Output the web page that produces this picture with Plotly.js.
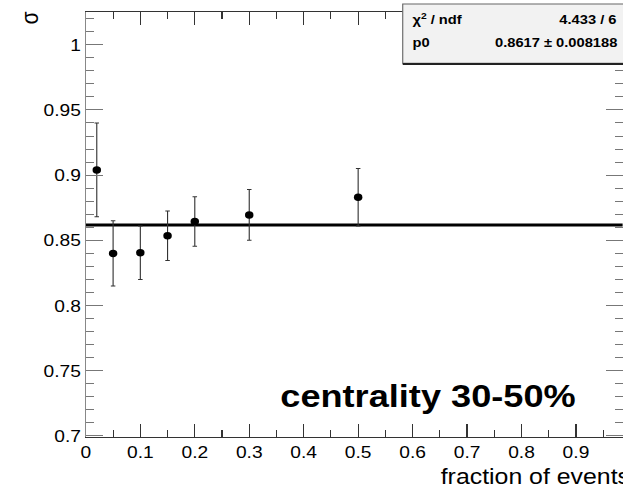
<!DOCTYPE html>
<html>
<head>
<meta charset="utf-8">
<script src="https://cdn.plot.ly/plotly-3.0.1.min.js"></script>
<style>
  html, body { margin: 0; padding: 0; background: #ffffff; overflow: hidden; }
  #wrap { width: 552px; height: 491px; transform: scaleX(1.13); transform-origin: 0 0; }
</style>
</head>
<body>
<div id="wrap"><div id="plot"></div></div>
<script>
// ---- data ----
const frac = [0.02, 0.05, 0.10, 0.15, 0.20, 0.30, 0.50];
const sigma = [0.904, 0.840, 0.8405, 0.8535, 0.8645, 0.8695, 0.883];
const sigmaErr = [0.036, 0.025, 0.0205, 0.019, 0.019, 0.0195, 0.022];
const fitP0 = 0.8617;
const fitP0Err = 0.008188;
const chi2 = 4.433;
const ndf = 6;
const fitX = [0, 1];
const xTickVals = [0, 0.1, 0.2, 0.3, 0.4, 0.5, 0.6, 0.7, 0.8, 0.9];
const xTickText = ["0", "0.1", "0.2", "0.3", "0.4", "0.5", "0.6", "0.7", "0.8", "0.9"];
const yTickVals = [0.7, 0.75, 0.8, 0.85, 0.9, 0.95, 1.0];
const yTickText = ["0.7", "0.75", "0.8", "0.85", "0.9", "0.95", "1"];
const xTitle = "fraction of events";
const yTitle = "σ";
const label = "centrality 30-50%";

const FONT = "Liberation Sans, Arial, Helvetica, sans-serif";

const traces = [
  {
    x: fitX, y: fitX.map(() => fitP0),
    type: "scatter", mode: "lines",
    line: {color: "#000000", width: 3},
    hoverinfo: "skip", showlegend: false
  },
  {
    x: frac, y: sigma,
    type: "scatter", mode: "markers",
    marker: {color: "#000000", size: 7.5, symbol: "circle"},
    error_y: {type: "data", array: sigmaErr, visible: true, color: "#333333", thickness: 1, width: 2},
    showlegend: false
  }
];

const layout = {
  width: 552, height: 491,
  margin: {l: 76, r: 1, t: 12, b: 54, pad: 0},
  paper_bgcolor: "#ffffff", plot_bgcolor: "#ffffff",
  font: {family: FONT, color: "#000000", size: 17},
  showlegend: false,
  xaxis: {
    range: [0, 0.9857],
    showgrid: false, zeroline: false,
    showline: true, linecolor: "#333333", linewidth: 1, mirror: "allticks",
    ticks: "inside", ticklen: 13, tickwidth: 1, tickcolor: "#333333",
    tickvals: xTickVals, ticktext: xTickText,
    tickfont: {family: FONT, size: 17, color: "#000000"},
    minor: {dtick: 0.05, tick0: 0, ticks: "inside", ticklen: 7, tickwidth: 1, tickcolor: "#333333", showgrid: false}
  },
  yaxis: {
    range: [0.6992, 1.0251],
    showgrid: false, zeroline: false,
    showline: true, linecolor: "#888888", linewidth: 1, mirror: "allticks",
    ticks: "inside", ticklen: 15, tickwidth: 1, tickcolor: "#777777",
    tickvals: yTickVals, ticktext: yTickText,
    tickfont: {family: FONT, size: 17, color: "#000000"},
    minor: {dtick: 0.01, tick0: 0.7, ticks: "inside", ticklen: 7, tickwidth: 1, tickcolor: "#777777", showgrid: false}
  },
  shapes: [
    {type: "rect", xref: "paper", yref: "paper", x0: 0.5903, x1: 1.05, y0: 0.8793, y1: 1.0188,
     fillcolor: "#f2f2f2", line: {color: "#666666", width: 1}, layer: "above"},
    {type: "line", xref: "paper", yref: "paper", x0: 0.5903, x1: 1.05, y0: 0.8775, y1: 0.8775,
     line: {color: "#222222", width: 2}, layer: "above"}
  ],
  annotations: [
    {text: "χ<sup>2</sup> / ndf", xref: "paper", yref: "paper", x: 0.6037, y: 0.9835,
     xanchor: "left", yanchor: "middle", showarrow: false,
     font: {family: FONT, size: 13, color: "#000000", weight: "bold"}},
    {text: chi2.toFixed(3) + " / " + ndf, xref: "paper", yref: "paper", x: 0.9933, y: 0.9835,
     xanchor: "right", yanchor: "middle", showarrow: false,
     font: {family: FONT, size: 13, color: "#000000", weight: "bold"}},
    {text: "p0", xref: "paper", yref: "paper", x: 0.6037, y: 0.9271,
     xanchor: "left", yanchor: "middle", showarrow: false,
     font: {family: FONT, size: 13, color: "#000000", weight: "bold"}},
    {text: fitP0.toFixed(4) + " ± " + fitP0Err.toFixed(6), xref: "paper", yref: "paper", x: 0.9933, y: 0.9271,
     xanchor: "right", yanchor: "middle", showarrow: false,
     font: {family: FONT, size: 13, color: "#000000", weight: "bold"}},
    {text: label, xref: "paper", yref: "paper", x: 0.358, y: 0.0976,
     xanchor: "left", yanchor: "middle", showarrow: false,
     font: {family: FONT, size: 32, color: "#000000", weight: "bold"}},
    {text: xTitle, xref: "paper", yref: "paper", x: 0.6566, y: -0.094,
     xanchor: "left", yanchor: "middle", showarrow: false,
     font: {family: FONT, size: 22, color: "#000000"}},
    {text: yTitle, xref: "paper", yref: "paper", x: -0.104, y: 0.986, textangle: -90,
     xanchor: "center", yanchor: "middle", showarrow: false,
     font: {family: FONT, size: 21, color: "#000000"}}
  ]
};

Plotly.newPlot("plot", traces, layout, {displayModeBar: false, staticPlot: true});
</script>
</body>
</html>
